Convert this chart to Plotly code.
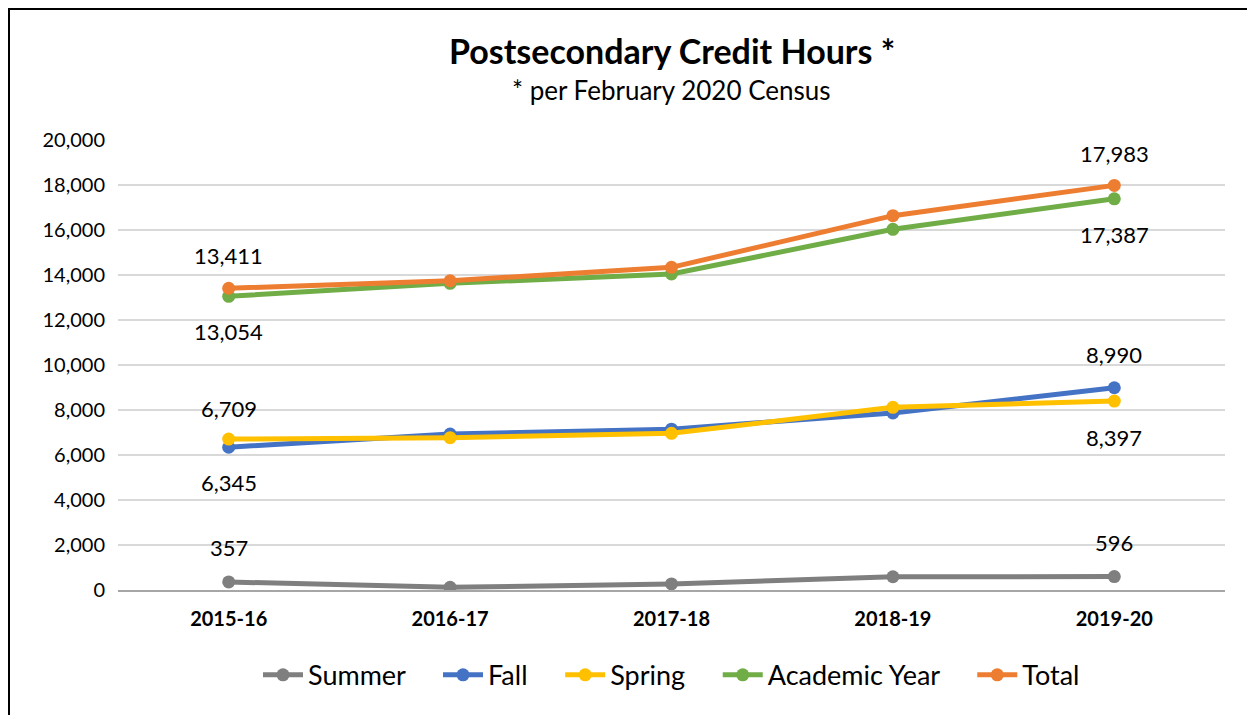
import plotly.graph_objects as go

years = ["2015-16", "2016-17", "2017-18", "2018-19", "2019-20"]
summer = [357, 120, 270, 590, 596]
fall = [6345, 6933, 7150, 7870, 8990]
spring = [6709, 6770, 6965, 8120, 8397]
academic_year = [13054, 13630, 14045, 16030, 17387]
total = [13411, 13745, 14340, 16636, 17983]

series = [
    ("Summer", summer, "#7F7F7F", [34, 34]),
    ("Fall", fall, "#4472C4", [-35, 33]),
    ("Spring", spring, "#FFC000", [31, -36]),
    ("Academic Year", academic_year, "#70AD47", [-35, -36]),
    ("Total", total, "#ED7D31", [33, 32]),
]

FONT = "Lato"
L, T, PW, PH = 110, 132, 1107, 450
W, H = 1247, 707
PAD = "\u00a0" * 4
fig = go.Figure()
annotations = []
for i, (name, vals, color, shifts) in enumerate(series):
    fig.add_trace(go.Scatter(
        x=years, y=vals, name=name + (PAD if i < len(series) - 1 else ""),
        mode="lines+markers",
        line=dict(color=color, width=5),
        marker=dict(color=color, size=13),
    ))
    for idx, sh in zip([0, len(vals) - 1], shifts):
        annotations.append(dict(
            x=years[idx], y=vals[idx], text=f"{vals[idx]:,}", showarrow=False,
            yshift=sh, font=dict(family=FONT, size=22, color="#000000"),
        ))

annotations += [
    dict(xref="paper", yref="paper", x=0.5, y=1.0, yshift=90, yanchor="middle",
         text="<b>Postsecondary Credit Hours *</b>",
         showarrow=False, font=dict(family=FONT, size=34, color="#000000")),
    dict(xref="paper", yref="paper", x=0.5, y=1.0, yshift=50, yanchor="middle",
         text="* per February 2020 Census",
         showarrow=False, font=dict(family=FONT, size=26, color="#000000")),
]

fig.update_layout(
    width=W, height=H,
    margin=dict(l=L, r=W - L - PW, t=T, b=H - T - PH),
    paper_bgcolor="white", plot_bgcolor="white",
    showlegend=True,
    legend=dict(orientation="h", x=0.5, xanchor="center", y=-0.135, yanchor="top",
                font=dict(family=FONT, size=27, color="#000000"),
                traceorder="normal", itemwidth=40),
    annotations=annotations,
    shapes=[dict(type="rect", xref="paper", yref="paper",
                 x0=(1 - L) / PW, x1=(1240 - L) / PW,
                 y0=-(H + 20 - T - PH) / PH, y1=(T + PH - 1) / PH,
                 line=dict(color="#000000", width=2), fillcolor="rgba(0,0,0,0)")],
    font=dict(family=FONT, color="#000000"),
)
fig.update_xaxes(
    showgrid=False, showline=True, linecolor="#A6A6A6", linewidth=2,
    tickfont=dict(family=FONT, size=20, color="#000000"),
    tickvals=years, ticktext=[f"<b>{y}</b>" for y in years],
    range=[-0.5, 4.5], ticks="", ticklabelstandoff=10,
)
fig.update_yaxes(
    range=[0, 20000], dtick=2000, tickformat=",", showgrid=True,
    gridcolor="#D9D9D9", gridwidth=1.5, zeroline=False,
    tickfont=dict(family=FONT, size=20, color="#000000"), ticks="",
    ticklabelstandoff=12,
)
fig.write_html("out.html")
